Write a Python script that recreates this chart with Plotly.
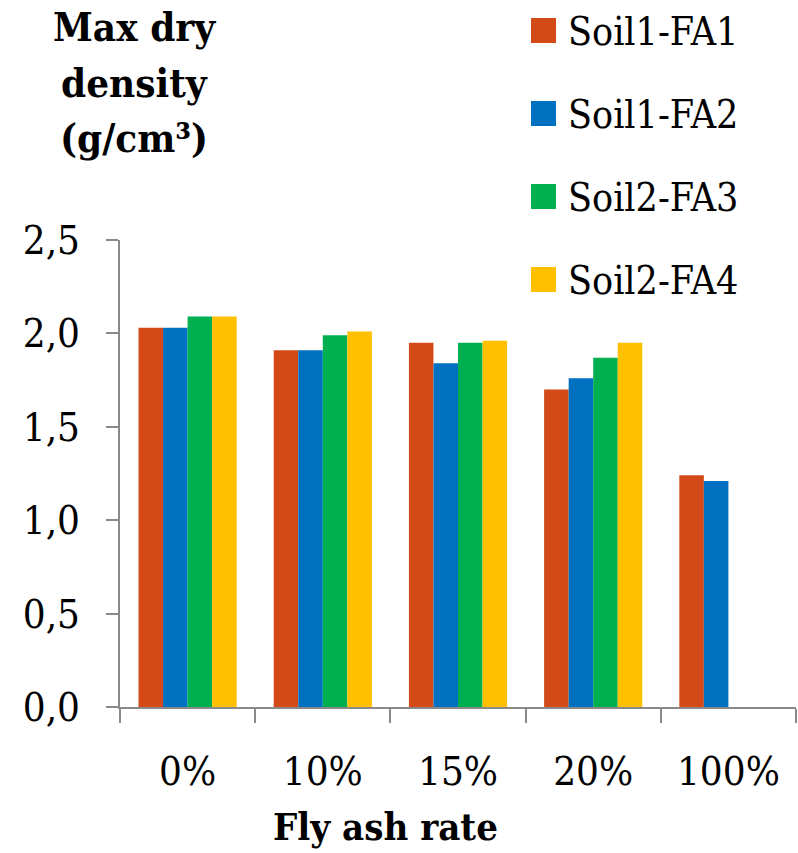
import plotly.graph_objects as go

# Fly ash content of each mix
rates = ["0%", "10%", "15%", "20%", "100%"]

# Maximum dry density (g/cm3) per soil / fly ash combination
soil1_fa1 = [2.03, 1.91, 1.95, 1.70, 1.24]
soil1_fa2 = [2.03, 1.91, 1.84, 1.76, 1.21]
soil2_fa3 = [2.09, 1.99, 1.95, 1.87, None]
soil2_fa4 = [2.09, 2.01, 1.96, 1.95, None]

series_names = ["Soil1-FA1", "Soil1-FA2", "Soil2-FA3", "Soil2-FA4"]
series_values = [soil1_fa1, soil1_fa2, soil2_fa3, soil2_fa4]
series_colors = ["#D34A18", "#0070C0", "#00B050", "#FFC000"]

y_title_lines = ["Max dry", "density", "(g/cm³)"]
x_title = "Fly ash rate"

W, H = 798, 853
M_L, M_R, M_T, M_B = 120, 2, 240, 146
PW, PH = W - M_L - M_R, H - M_T - M_B


def px_x(x):
    return (x - M_L) / PW


def px_y(y):
    return (H - M_B - y) / PH


FONT = "'DejaVu Serif Condensed', 'DejaVu Serif', serif"

fig = go.Figure()
for name, vals, col in zip(series_names, series_values, series_colors):
    fig.add_trace(go.Bar(
        x=rates, y=vals, name=name,
        marker=dict(color=col, line=dict(width=0)),
        showlegend=False,
    ))

# legend keys drawn as squares with labels to their right
for i, (name, col) in enumerate(zip(series_names, series_colors)):
    cy = 30.5 + i * 83
    fig.add_shape(type="rect", xref="paper", yref="paper",
                  x0=px_x(531), x1=px_x(556), y0=px_y(cy + 12.5), y1=px_y(cy - 12.5),
                  fillcolor=col, line=dict(width=0))
    fig.add_annotation(xref="paper", yref="paper", x=px_x(566), y=px_y(cy + 1),
                       xanchor="left", yanchor="middle", showarrow=False,
                       text=name, font=dict(family=FONT, size=39, color="#000000"))

# y axis title, one line per annotation
for i, line in enumerate(y_title_lines):
    fig.add_annotation(xref="paper", yref="paper", x=px_x(134), y=px_y(26 + i * 56),
                       xanchor="center", yanchor="middle", showarrow=False,
                       text="<b>" + line + "</b>",
                       font=dict(family=FONT, size=40, color="#000000"))

fig.add_annotation(xref="paper", yref="paper", x=px_x(385), y=px_y(826),
                   xanchor="center", yanchor="middle", showarrow=False,
                   text="<b>" + x_title + "</b>",
                   font=dict(family=FONT, size=38, color="#000000"))

fig.update_layout(
    width=W, height=H,
    margin=dict(l=M_L, r=M_R, t=M_T, b=M_B, pad=0),
    paper_bgcolor="white", plot_bgcolor="white",
    barmode="group", bargap=0.274, bargroupgap=0,
    separators=", ",
    font=dict(family=FONT, color="#000000"),
)
fig.update_xaxes(
    type="category", tickson="boundaries",
    showline=True, linecolor="#8A8A8A", linewidth=2,
    ticks="outside", ticklen=14, tickcolor="#8A8A8A", tickwidth=2,
    tickfont=dict(family=FONT, size=40, color="#000000"),
    ticklabelstandoff=28,
    showgrid=False, zeroline=False,
)
fig.update_yaxes(
    range=[0, 2.5], tickvals=[0, 0.5, 1.0, 1.5, 2.0, 2.5], tickformat=".1f",
    showline=True, linecolor="#8A8A8A", linewidth=2,
    ticks="outside", ticklen=12, tickcolor="#8A8A8A", tickwidth=2,
    tickfont=dict(family=FONT, size=40, color="#000000"),
    ticklabelstandoff=18,
    showgrid=False, zeroline=False,
)

fig.write_html("out.html")
